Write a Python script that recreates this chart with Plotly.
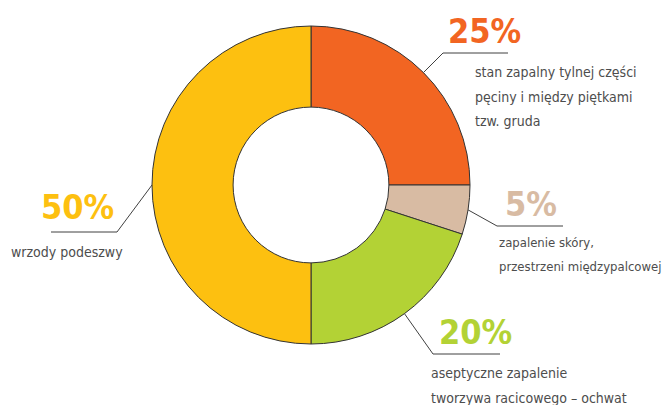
import numpy as np
import plotly.graph_objects as go

# dane wykresu
udzialy = [25, 5, 20, 50]
procenty = ["25%", "5%", "20%", "50%"]
opisy = [
    ["stan zapalny tylnej części", "pęciny i między piętkami", "tzw. gruda"],
    ["zapalenie skóry,", "przestrzeni międzypalcowej"],
    ["aseptyczne zapalenie", "tworzywa racicowego – ochwat"],
    ["wrzody podeszwy"],
]
kolory = ["#F26522", "#D8BBA3", "#B3D235", "#FDC010"]

# strona ma 8px marginesu body, wiec figura jest mniejsza o 8px
OFF = 8
W, H = 672, 405
cx, cy, r = 311, 185, 159
FONT = "DejaVu Sans Condensed, Liberation Sans Narrow, sans-serif"

fw, fh = W - OFF, H - OFF

fig = go.Figure()
fig.add_trace(go.Pie(
    values=udzialy, labels=procenty, sort=False, direction="clockwise", rotation=0,
    hole=0.49, marker=dict(colors=kolory, line=dict(color="#333333", width=1)),
    textinfo="none", hoverinfo="skip", showlegend=False,
    domain=dict(x=[(cx - r - OFF) / fw, (cx + r - OFF) / fw],
                y=[(H - (cy + r)) / fh, (H - (cy - r)) / fh]),
))

# linie odniesienia: start na srodku kata wycinka
kat = np.cumsum(udzialy) - np.array(udzialy) / 2
kat = kat / sum(udzialy) * 2 * np.pi
# (lamanie x, y, koniec poziomej kreski) dla kazdej etykiety
zalamania = [(443, 53, 508), (497, 226, 563), (433, 354, 500), (117, 232, 51)]
pozycje_proc = [(446, 31, "left"), (503, 204, "left"), (437, 332, "left"), (116, 207, "right")]
pozycje_opis = [(473, 72), (497, 242), (429, 373), (9, 252)]
rozmiary_opis = [14, 13, 14, 14]
ODSTEP = 24.5

for i in range(len(udzialy)):
    x0 = cx + r * np.sin(kat[i])
    y0 = cy - r * np.cos(kat[i])
    xz, yz, xk = zalamania[i]
    fig.add_shape(type="path", path=f"M {x0} {y0} L {xz} {yz} L {xk} {yz}",
                  xref="x", yref="y", line=dict(color="#404040", width=1))
    px, py, anc = pozycje_proc[i]
    fig.add_annotation(x=px, y=py, xref="x", yref="y", text=f"<b>{procenty[i]}</b>",
                       showarrow=False, xanchor=anc, yanchor="middle",
                       font=dict(family=FONT, size=34, color=kolory[i]))
    ox, oy = pozycje_opis[i]
    for j, linia in enumerate(opisy[i]):
        fig.add_annotation(x=ox, y=oy + j * ODSTEP, xref="x", yref="y", text=linia,
                           showarrow=False, xanchor="left", yanchor="middle",
                           font=dict(family=FONT, size=rozmiary_opis[i], color="#4D4D4D"))

fig.update_xaxes(range=[OFF, W], visible=False, fixedrange=True)
fig.update_yaxes(range=[H, OFF], visible=False, fixedrange=True)
fig.update_layout(width=fw, height=fh, margin=dict(l=0, r=0, t=0, b=0),
                  plot_bgcolor="white", paper_bgcolor="white")

fig.write_html("out.html")
